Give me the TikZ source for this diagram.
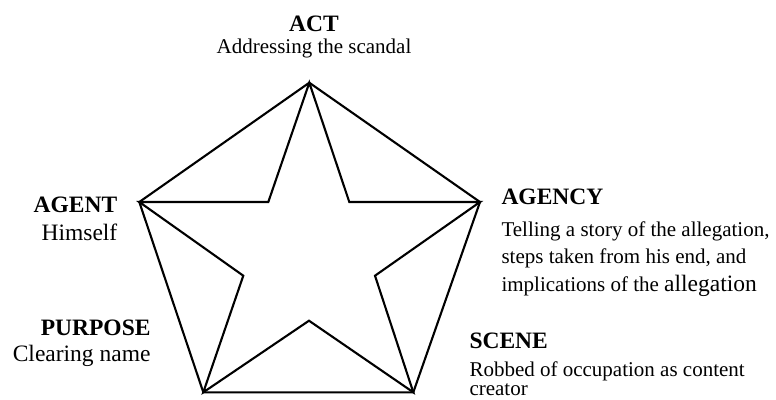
\documentclass[tikz,border=0pt]{standalone}
\usepackage{fontspec}
\setmainfont{Liberation Serif}
\begin{document}
\begin{tikzpicture}[x=1pt,y=-1pt,
  edge/.style={line width=2.1pt,line join=miter},
  head/.style={font=\fontsize{23.5}{26}\selectfont\bfseries},
  bodyR/.style={font=\fontsize{21}{26.5}\selectfont},
  bodyL/.style={font=\fontsize{23.5}{27}\selectfont},
  lbl/.style={inner sep=0pt,outer sep=0pt}]
\useasboundingbox (0,0) rectangle (776,399);
% outer vertices
\coordinate (T) at (309.3,82.7);
\coordinate (L) at (139.3,202);
\coordinate (R) at (480,202);
\coordinate (BL) at (203.3,392.3);
\coordinate (BR) at (413.3,392.3);
% inner vertices
\coordinate (iUL) at (268.3,202);
\coordinate (iUR) at (349.3,202);
\coordinate (iL) at (243.3,275.7);
\coordinate (iR) at (375,275.7);
\coordinate (iB) at (309,320.7);
% pentagon
\draw[edge] (T) -- (R) -- (BR) -- (BL) -- (L) -- cycle;
% star
\draw[edge] (T) -- (iUL) -- (L) -- (iL) -- (BL) -- (iB) -- (BR) -- (iR) -- (R) -- (iUR) -- cycle;
% labels
\node[lbl,head,anchor=base] (acth) at (314,31.5) {ACT};
\node[lbl,bodyR,anchor=base] (actb) at (314,53) {Addressing the scandal};
\node[lbl,head,anchor=base east] (agenth) at (117.3,212.3) {AGENT};
\node[lbl,bodyL,anchor=base east] (agentb) at (117.3,240) {Himself};
\node[lbl,head,anchor=base east] (purph) at (150.5,335) {PURPOSE};
\node[lbl,bodyL,anchor=base east] (purpb) at (150.5,361.7) {Clearing name};
\node[lbl,head,anchor=base west] (agencyh) at (501.5,204.3) {AGENCY};
\node[lbl,bodyR,anchor=base west] (agencyb1) at (501.5,236.5) {Telling a story of the allegation,};
\node[lbl,bodyR,anchor=base west] (agencyb2) at (501.5,263.3) {steps taken from his end, and};
\node[lbl,bodyR,anchor=base west] (agencyb3) at (501.5,291.5) {implications of the {\fontsize{23.5}{26}\selectfont allegation}};
\node[lbl,head,anchor=base west] (sceneh) at (469.5,348.3) {SCENE};
\node[lbl,font=\fontsize{21}{19.5}\selectfont,align=left,anchor=north west] (sceneb) at (469.5,361.5) {Robbed of occupation as content\\creator};
\end{tikzpicture}
\end{document}
